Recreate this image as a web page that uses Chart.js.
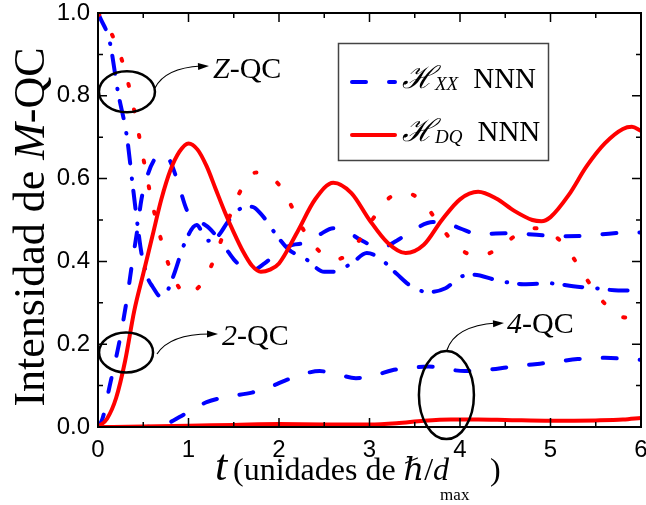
<!DOCTYPE html>
<html>
<head>
<meta charset="utf-8">
<script src="https://cdn.jsdelivr.net/npm/chart.js@4.4.0/dist/chart.umd.min.js"></script>
<style>
  html, body { margin: 0; padding: 0; background: #fff; }
  #chart { display: block; }
</style>
</head>
<body>
<canvas id="chart" width="646" height="505"></canvas>
<script>
// Z-QC, H_XX (traço-ponto azul)
const tZxx = [0, 0.02, 0.13, 0.22, 0.32, 0.38, 0.43, 0.48, 0.55, 0.6, 0.7, 0.77, 0.85, 0.95, 1.09, 1.21, 1.32, 1.45, 1.6, 1.7, 1.8, 1.95, 2.1, 2.3, 2.5, 2.6, 2.8, 2.97, 3.1, 3.3, 3.46, 3.65, 3.84, 4.0, 4.15, 4.4, 4.7, 5.0, 5.25, 5.5, 5.75, 6.0];
const zQcXX = [1.0, 0.99, 0.93, 0.81, 0.70, 0.59, 0.50, 0.42, 0.36, 0.34, 0.314, 0.33, 0.375, 0.44, 0.488, 0.45, 0.46, 0.50, 0.53, 0.532, 0.515, 0.47, 0.43, 0.405, 0.375, 0.375, 0.395, 0.42, 0.41, 0.37, 0.34, 0.326, 0.335, 0.362, 0.368, 0.355, 0.345, 0.347, 0.34, 0.335, 0.33, 0.33];

// Z-QC, H_DQ (pontilhado vermelho)
const tZdq = [0, 0.1, 0.2, 0.3, 0.4, 0.5, 0.6, 0.7, 0.8, 0.9, 0.97, 1.1, 1.2, 1.3, 1.4, 1.5, 1.6, 1.75, 1.9, 2.0, 2.1, 2.2, 2.3, 2.4, 2.5, 2.62, 2.75, 2.9, 3.0, 3.2, 3.4, 3.6, 3.8, 4.0, 4.2, 4.4, 4.6, 4.8, 5.0, 5.2, 5.4, 5.6, 5.8, 6.0];
const zQcDQ = [1.0, 0.97, 0.925, 0.86, 0.765, 0.65, 0.54, 0.45, 0.38, 0.335, 0.32, 0.335, 0.365, 0.415, 0.475, 0.535, 0.58, 0.615, 0.605, 0.585, 0.55, 0.505, 0.465, 0.435, 0.415, 0.405, 0.415, 0.455, 0.49, 0.55, 0.566, 0.54, 0.48, 0.43, 0.413, 0.428, 0.46, 0.48, 0.47, 0.425, 0.357, 0.298, 0.265, 0.263];

// 2-QC, H_XX (tracejado azul)
const tTwoXX = [0, 0.05, 0.13, 0.24, 0.32, 0.38, 0.43, 0.48, 0.55, 0.62, 0.7, 0.79, 0.87, 0.99, 1.1, 1.23, 1.4, 1.5, 1.6, 1.7, 1.84, 2.0, 2.15, 2.3, 2.45, 2.6, 2.75, 2.9, 3.05, 3.15, 3.3, 3.5, 3.7, 3.8, 4.0, 4.2, 4.5, 4.8, 5.1, 5.4, 5.7, 6.0];
const twoQcXX = [0, 0.02, 0.1, 0.21, 0.31, 0.40, 0.47, 0.55, 0.61, 0.645, 0.66, 0.645, 0.60, 0.52, 0.50, 0.48, 0.435, 0.405, 0.385, 0.378, 0.395, 0.425, 0.44, 0.445, 0.465, 0.48, 0.472, 0.452, 0.437, 0.435, 0.45, 0.478, 0.495, 0.495, 0.48, 0.466, 0.468, 0.465, 0.461, 0.462, 0.468, 0.47];

// 2-QC, H_DQ (linha vermelha)
const tTwoDQ = [0, 0.1, 0.2, 0.3, 0.4, 0.5, 0.6, 0.7, 0.8, 0.9, 1.0, 1.1, 1.2, 1.3, 1.4, 1.5, 1.6, 1.7, 1.8, 1.9, 2.0, 2.2, 2.4, 2.6, 2.8, 3.0, 3.2, 3.4, 3.6, 3.8, 4.0, 4.2, 4.4, 4.6, 4.8, 4.9, 5.0, 5.2, 5.4, 5.6, 5.8, 5.9, 6.0];
const twoQcDQ = [0, 0.02, 0.07, 0.16, 0.28, 0.37, 0.46, 0.55, 0.62, 0.665, 0.685, 0.67, 0.63, 0.575, 0.52, 0.47, 0.425, 0.39, 0.375, 0.38, 0.395, 0.47, 0.55, 0.59, 0.565, 0.5, 0.445, 0.42, 0.44, 0.5, 0.55, 0.568, 0.552, 0.522, 0.5, 0.497, 0.507, 0.56, 0.63, 0.685, 0.72, 0.725, 0.715];

// 4-QC, H_XX (tracejado azul)
const tFourXX = [0, 0.5, 0.7, 0.8, 0.9, 1.0, 1.2, 1.45, 1.7, 1.9, 2.1, 2.3, 2.45, 2.65, 2.85, 3.05, 3.25, 3.45, 3.65, 3.85, 4.05, 4.3, 4.55, 4.8, 5.05, 5.3, 5.6, 5.8, 6.0];
const fourQcXX = [0, 0.0, 0.005, 0.012, 0.024, 0.036, 0.06, 0.074, 0.083, 0.097, 0.115, 0.13, 0.135, 0.127, 0.118, 0.124, 0.137, 0.143, 0.146, 0.14, 0.135, 0.138, 0.145, 0.151, 0.157, 0.164, 0.167, 0.165, 0.162];

// 4-QC, H_DQ (linha vermelha)
const tFourDQ = [0, 0.5, 1.0, 1.5, 2.0, 2.5, 3.0, 3.3, 3.6, 3.9, 4.2, 4.5, 5.0, 5.5, 5.8, 6.0];
const fourQcDQ = [0, 0.001, 0.003, 0.005, 0.007, 0.006, 0.006, 0.009, 0.015, 0.018, 0.018, 0.017, 0.015, 0.016, 0.018, 0.022];

const BLUE = '#0000ff';
const RED = '#ff0000';
const SERIF = '"Liberation Serif", "Times New Roman", "DejaVu Serif", serif';
const SANS = '"Liberation Sans", Arial, sans-serif';

const DASHED = [14, 23];
const DASH_DOT = [18, 15, 0.5, 12];
const DOTTED = [2, 24];

function toPoints(ts, ys) {
  return ts.map((t, i) => ({ x: t, y: ys[i] }));
}

function serie(ts, ys, color, dash) {
  return {
    data: toPoints(ts, ys),
    borderColor: color,
    borderWidth: 4,
    borderDash: dash,
    borderCapStyle: 'round',
    borderJoinStyle: 'round',
    pointRadius: 0,
    fill: false,
    cubicInterpolationMode: 'monotone'
  };
}

// Desenha o quadro, os ticks internos, as elipses, a legenda e os títulos
const decoracao = {
  id: 'decoracao',
  afterDraw(chart) {
    const ctx = chart.ctx;
    const a = chart.chartArea;
    const sx = chart.scales.x;
    const sy = chart.scales.y;

    ctx.save();
    ctx.strokeStyle = '#000';

    // ticks internos nos quatro lados
    ctx.lineWidth = 1.5;
    ctx.beginPath();
    for (let v = 0; v <= 6.001; v += 0.5) {
      const px = sx.getPixelForValue(v);
      const len = Math.abs(v - Math.round(v)) < 1e-6 ? 9 : 5;
      ctx.moveTo(px, a.bottom); ctx.lineTo(px, a.bottom - len);
      ctx.moveTo(px, a.top); ctx.lineTo(px, a.top + len);
    }
    for (let k = 0; k <= 10; k++) {
      const py = sy.getPixelForValue(k / 10);
      const len = k % 2 === 0 ? 9 : 5;
      ctx.moveTo(a.left, py); ctx.lineTo(a.left + len, py);
      ctx.moveTo(a.right, py); ctx.lineTo(a.right - len, py);
    }
    ctx.stroke();

    // quadro
    ctx.lineWidth = 2;
    ctx.strokeRect(a.left, a.top, a.right - a.left, a.bottom - a.top);

    // elipses com setas e rótulos
    const marcas = [
      { t: 0.32, v: 0.81, rx: 28, ry: 20.5, seta: [[155, 88], [165, 68], [209, 66]], ital: 'Z', resto: '-QC', lx: 213, ly: 78 },
      { t: 0.31, v: 0.18, rx: 27, ry: 20, seta: [[157, 354], [170, 334], [218, 334]], ital: '2', resto: '-QC', lx: 222, ly: 345 },
      { t: 3.85, v: 0.077, rx: 27.5, ry: 44, seta: [[447, 350], [455, 326], [504, 323]], ital: '4', resto: '-QC', lx: 507, ly: 333 }
    ];
    marcas.forEach(m => {
      ctx.lineWidth = 2.5;
      ctx.beginPath();
      ctx.ellipse(sx.getPixelForValue(m.t), sy.getPixelForValue(m.v), m.rx, m.ry, 0, 0, Math.PI * 2);
      ctx.stroke();

      const [p0, c, p1] = m.seta;
      ctx.lineWidth = 1.2;
      ctx.beginPath();
      ctx.moveTo(p0[0], p0[1]);
      ctx.quadraticCurveTo(c[0], c[1], p1[0] - 8, p1[1]);
      ctx.stroke();
      const ang = Math.atan2(p1[1] - c[1], p1[0] - c[0]);
      ctx.fillStyle = '#000';
      ctx.beginPath();
      ctx.moveTo(p1[0], p1[1]);
      ctx.lineTo(p1[0] - 11 * Math.cos(ang) + 3.5 * Math.sin(ang), p1[1] - 11 * Math.sin(ang) - 3.5 * Math.cos(ang));
      ctx.lineTo(p1[0] - 11 * Math.cos(ang) - 3.5 * Math.sin(ang), p1[1] - 11 * Math.sin(ang) + 3.5 * Math.cos(ang));
      ctx.closePath();
      ctx.fill();

      ctx.textBaseline = 'alphabetic';
      ctx.textAlign = 'left';
      ctx.font = 'italic 30px ' + SERIF;
      ctx.fillText(m.ital, m.lx, m.ly);
      const w = ctx.measureText(m.ital).width;
      ctx.font = '30px ' + SERIF;
      ctx.fillText(m.resto, m.lx + w, m.ly);
    });

    // legenda
    ctx.fillStyle = '#fff';
    ctx.fillRect(338, 43, 210, 117);
    ctx.strokeStyle = '#444';
    ctx.lineWidth = 1.5;
    ctx.strokeRect(338.5, 43.5, 210, 117);
    const itens = [
      { cor: BLUE, dash: DASHED, sub: 'XX', y: 82, base: 88 },
      { cor: RED, dash: [], sub: 'DQ', y: 135, base: 141 }
    ];
    itens.forEach(it => {
      ctx.strokeStyle = it.cor;
      ctx.lineWidth = 4;
      ctx.lineCap = 'round';
      ctx.setLineDash(it.dash);
      ctx.beginPath();
      ctx.moveTo(352, it.y);
      ctx.lineTo(395, it.y);
      ctx.stroke();
      ctx.setLineDash([]);
      ctx.lineCap = 'butt';

      ctx.fillStyle = '#000';
      ctx.font = 'italic 31px ' + SERIF;
      ctx.fillText('\u210B', 402, it.base);
      const wh = ctx.measureText('\u210B').width;
      ctx.font = 'italic 19px ' + SERIF;
      ctx.fillText(it.sub, 402 + wh, it.base + 2);
      const ws = ctx.measureText(it.sub).width;
      ctx.font = '29px ' + SERIF;
      ctx.fillText('NNN', 402 + wh + ws + 15, it.base);
    });

    // título do eixo x
    ctx.fillStyle = '#000';
    ctx.font = 'italic 44px ' + SERIF;
    ctx.fillText('t', 215, 480);
    let x = 233;
    ctx.font = '32px ' + SERIF;
    ctx.fillText('(unidades de ', x, 480);
    x += ctx.measureText('(unidades de ').width;
    ctx.font = 'italic 32px ' + SERIF;
    ctx.fillText('\u210F', x, 480);
    x += ctx.measureText('\u210F').width;
    ctx.font = '32px ' + SERIF;
    ctx.fillText('/', x, 480);
    x += ctx.measureText('/').width;
    ctx.font = 'italic 32px ' + SERIF;
    ctx.fillText('d', x, 480);
    ctx.font = '17px ' + SERIF;
    ctx.fillText('max', x + 7, 500);
    ctx.font = '32px ' + SERIF;
    ctx.fillText(')', 490, 480);

    // título do eixo y
    ctx.save();
    ctx.translate(44, 227);
    ctx.rotate(-Math.PI / 2);
    const partes = [['Intensidad de ', ''], ['M', 'italic '], ['-QC', '']];
    let total = 0;
    partes.forEach(p => { ctx.font = p[1] + '44px ' + SERIF; total += ctx.measureText(p[0]).width; });
    let px = -total / 2;
    partes.forEach(p => {
      ctx.font = p[1] + '44px ' + SERIF;
      ctx.fillText(p[0], px, 0);
      px += ctx.measureText(p[0]).width;
    });
    ctx.restore();

    ctx.restore();
  }
};

const ctx = document.getElementById('chart').getContext('2d');

const chart = new Chart(ctx, {
  type: 'line',
  data: {
    datasets: [
      serie(tTwoDQ, twoQcDQ, RED, []),
      serie(tFourDQ, fourQcDQ, RED, []),
      serie(tZdq, zQcDQ, RED, DOTTED),
      serie(tTwoXX, twoQcXX, BLUE, DASHED),
      serie(tFourXX, fourQcXX, BLUE, DASHED),
      serie(tZxx, zQcXX, BLUE, DASH_DOT)
    ]
  },
  options: {
    responsive: false,
    animation: false,
    devicePixelRatio: 1,
    layout: { padding: { top: 13, right: 5, left: 0, bottom: 0 } },
    plugins: {
      legend: { display: false },
      tooltip: { enabled: false }
    },
    scales: {
      x: {
        type: 'linear',
        min: 0,
        max: 6,
        grid: { display: false, drawTicks: false },
        border: { display: false },
        ticks: {
          stepSize: 1,
          maxRotation: 0,
          padding: 9,
          color: '#000',
          font: { family: SANS, size: 24 },
          callback: v => String(v)
        },
        afterFit: s => {
          s.height = 78;
          s.paddingLeft = 0;
          s.paddingRight = 0;
        }
      },
      y: {
        min: 0,
        max: 1,
        grid: { display: false, drawTicks: false },
        border: { display: false },
        ticks: {
          stepSize: 0.2,
          padding: 8,
          color: '#000',
          font: { family: SANS, size: 24 },
          callback: v => v.toFixed(1)
        },
        afterFit: s => {
          s.width = 98;
          s.paddingTop = 0;
          s.paddingBottom = 0;
        }
      }
    }
  },
  plugins: [decoracao]
});
</script>
</body>
</html>
